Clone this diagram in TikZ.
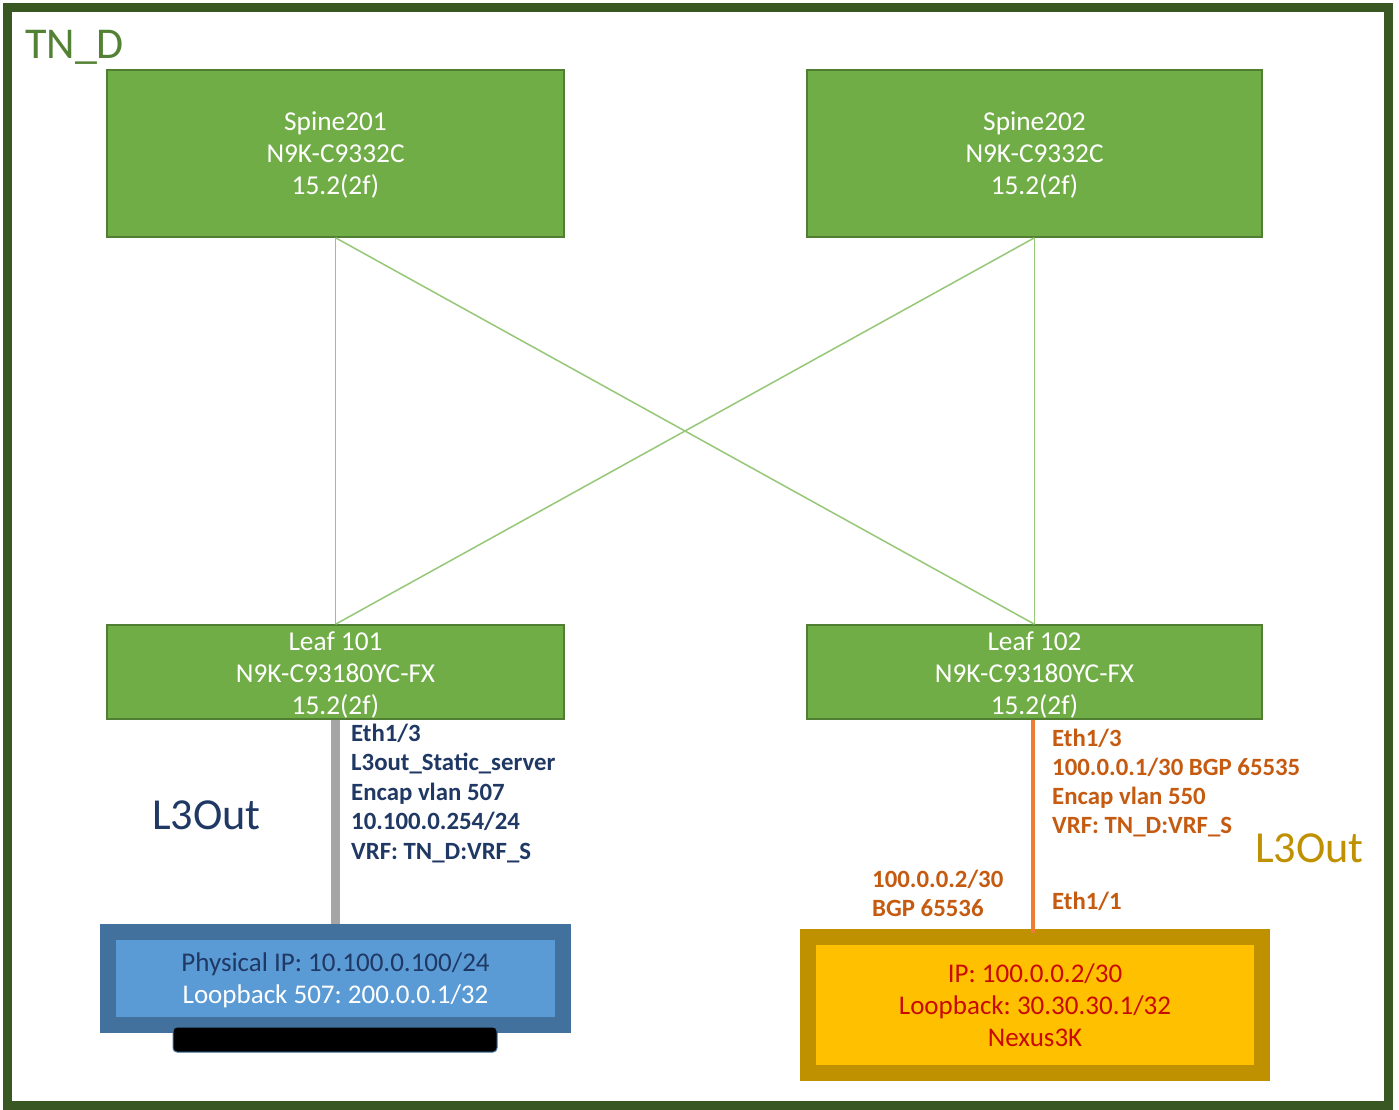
\documentclass[tikz,border=0pt]{standalone}
\usepackage{fontspec}
\setmainfont{Carlito}
\frenchspacing
\definecolor{frameG}{RGB}{56,87,35}
\definecolor{tnG}{RGB}{84,130,53}
\definecolor{boxG}{RGB}{112,173,71}
\definecolor{boxGd}{RGB}{80,126,50}
\definecolor{linkG}{RGB}{150,200,120}
\definecolor{navy}{RGB}{31,56,100}
\definecolor{orangeT}{RGB}{197,90,17}
\definecolor{orangeL}{RGB}{237,125,49}
\definecolor{goldT}{RGB}{191,144,0}
\definecolor{blueO}{RGB}{65,113,156}
\definecolor{blueI}{RGB}{91,155,213}
\definecolor{yelO}{RGB}{191,144,0}
\definecolor{yelI}{RGB}{255,192,0}
\definecolor{redT}{RGB}{200,10,0}
\definecolor{grayL}{RGB}{165,165,165}
\tikzset{
  dev/.style={draw=boxGd, line width=1.5, fill=boxG, inner sep=0},
  devtext/.style={inner sep=0, text=white, align=center, font=\fontsize{27.3}{32}\selectfont},
  link/.style={draw=linkG, line width=1.5},
  annL/.style={inner sep=0, anchor=base west, text=navy, font=\fontsize{24.8}{29}\selectfont\bfseries},
  annR/.style={inner sep=0, anchor=base west, text=orangeT, font=\fontsize{24.8}{29}\selectfont\bfseries},
  big/.style={inner sep=0, anchor=base west, font=\fontsize{44.3}{50}\selectfont},
}
\begin{document}
\begin{tikzpicture}[x=1pt,y=-1pt]
\useasboundingbox (0,0) rectangle (1399,1110);
\fill[white] (0,0) rectangle (1399,1110);
\draw[line width=9, draw=frameG] (7.5,7.5) rectangle (1388,1105.5);
\node[big, text=tnG, font=\fontsize{44}{50}\selectfont] (tnd) at (25,59) {TN\_D};

\node[dev, minimum width=457, minimum height=167] (s1) at (335.5,153.5) {};
\node[dev, minimum width=455, minimum height=167] (s2) at (1034.5,153.5) {};
\node[dev, minimum width=457, minimum height=94] (l1) at (335.5,672) {};
\node[dev, minimum width=455, minimum height=94] (l2) at (1034.5,672) {};
\node[devtext] (s1t) at (335.5,155.5) {Spine201\\N9K-C9332C\\15.2(2f)};
\node[devtext] (s2t) at (1034.5,155.5) {Spine202\\N9K-C9332C\\15.2(2f)};
\node[devtext] (l1t) at (335.5,675.5) {Leaf 101\\N9K-C93180YC-FX\\15.2(2f)};
\node[devtext] (l2t) at (1034.5,675.5) {Leaf 102\\N9K-C93180YC-FX\\15.2(2f)};

\draw[link] (s1.south) -- (l1.north);
\draw[link] (s1.south) -- (l2.north);
\draw[link] (s2.south) -- (l1.north);
\draw[link] (s2.south) -- (l2.north);

% server
\node[draw=blueO, line width=16, fill=blueI, inner sep=0, minimum width=455, minimum height=93] (srv) at (335.5,978.5) {};
\node[inner sep=0, align=center, font=\fontsize{27}{32}\selectfont] (srvt) at (335.5,980.5)
  {\textcolor{navy}{Physical IP: 10.100.0.100/24}\\\textcolor{white}{Loopback 507: 200.0.0.1/32}};
\node[draw=blueO, line width=1, fill=black, rounded corners=4, inner sep=0, minimum width=324, minimum height=25] (bar) at (335,1039.5) {};
\draw[draw=grayL, line width=9] (l1.south) -- (srv.north);

% nexus
\node[draw=yelO, line width=16, fill=yelI, inner sep=0, minimum width=454, minimum height=136,
  align=center, text=redT, font=\fontsize{27}{32}\selectfont] (n3k) at (1035,1005)
  {IP: 100.0.0.2/30\\Loopback: 30.30.30.1/32\\Nexus3K};
\coordinate (n3ktop) at (1033,933);
\draw[draw=orangeL, line width=4] (l2.south -| n3ktop) -- (n3ktop);

% left annotations
\foreach \t [count=\i] in {Eth1/3, L3out\_Static\_server, Encap vlan 507, 10.100.0.254/24, VRF: TN\_D:VRF\_S}
  \node[annL] (la\i) at (351,{741+29.5*(\i-1)}) {\t};
\node[big, text=navy] (l3l) at (152,829) {L3Out};

% right annotations
\foreach \t [count=\i] in {Eth1/3, 100.0.0.1/30 BGP 65535, Encap vlan 550, VRF: TN\_D:VRF\_S}
  \node[annR] (ra\i) at (1052,{746+29.3*(\i-1)}) {\t};
\node[annR] (ra5) at (1052,909) {Eth1/1};
\node[annR] (rb1) at (872,887) {100.0.0.2/30};
\node[annR] (rb2) at (872,916) {BGP 65536};
\node[big, text=goldT] (l3r) at (1255,862) {L3Out};
\end{tikzpicture}
\end{document}
